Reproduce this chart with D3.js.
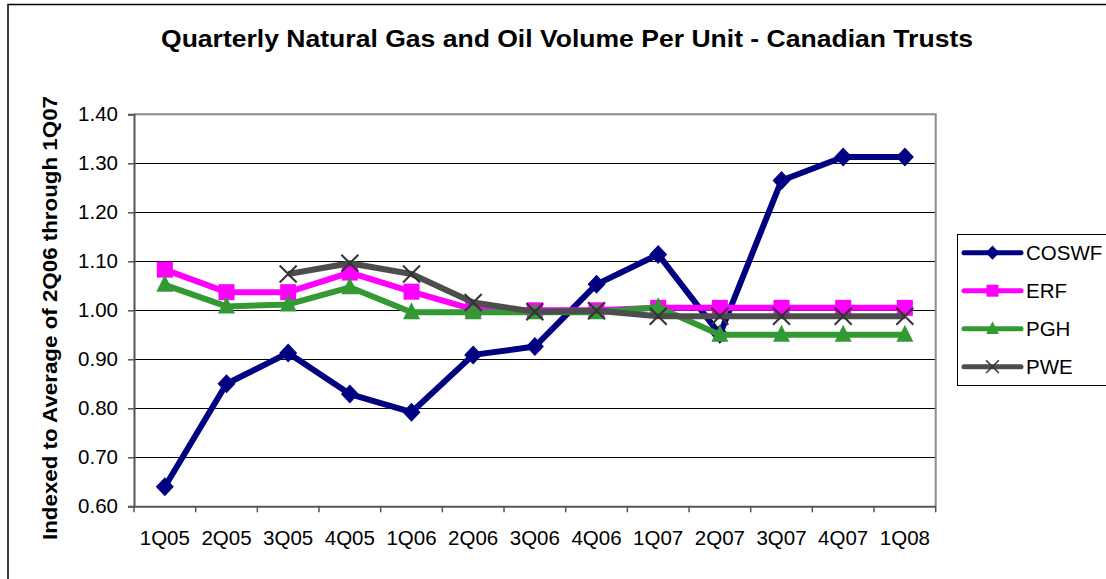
<!DOCTYPE html>
<html>
<head>
<meta charset="utf-8">
<script src="https://cdn.jsdelivr.net/npm/d3@7"></script>
<style>
	html, body { margin: 0; padding: 0; background: #fff; overflow: hidden; }
	svg { display: block; font-family: Arial, "Liberation Sans", sans-serif; }
</style>
</head>
<body>
<svg id="chart" width="1106" height="579"></svg>
<script>
// data
const quarters = ['1Q05', '2Q05', '3Q05', '4Q05', '1Q06', '2Q06', '3Q06', '4Q06', '1Q07', '2Q07', '3Q07', '4Q07', '1Q08'];
const coswf = [0.64, 0.85, 0.913, 0.829, 0.792, 0.909, 0.926, 1.053, 1.114, 0.951, 1.265, 1.313, 1.313];
const erf = [1.083, 1.037, 1.037, 1.077, 1.038, 1.002, 1.0, 1.0, 1.005, 1.005, 1.005, 1.005, 1.005];
const pgh = [1.052, 1.008, 1.012, 1.047, 0.996, 0.996, 0.996, 0.996, 1.006, 0.95, 0.95, 0.95, 0.95];
const pwe = [null, null, 1.074, 1.096, 1.074, 1.016, 0.997, 0.999, 0.988, 0.988, 0.988, 0.988, 0.988];
const yTicks = [0.6, 0.7, 0.8, 0.9, 1.0, 1.1, 1.2, 1.3, 1.4];

window.app = window.app || {};

window.app.volumeChart = (function() {

	'use strict';

	var chart,
		xScale,
		yScale,
		settings = {
			plot: { left: 134, right: 935.7, top: 114.3, bottom: 506.3 },
			fontSize: 20.5
		};

	const series = [
		{ name: 'COSWF', values: coswf, color: '#000080', marker: 'diamond' },
		{ name: 'ERF', values: erf, color: '#ff00ff', marker: 'square' },
		{ name: 'PGH', values: pgh, color: '#339933', marker: 'triangle' },
		{ name: 'PWE', values: pwe, color: '#4d4d4d', marker: 'cross' }
	];


	/**
	* create the scales
	* @returns {undefined}
	*/
	const createScales = function() {
		let p = settings.plot;

		xScale = d3.scaleBand()
			.domain(quarters)
			.range([p.left, p.right])
			.padding(0);

		yScale = d3.scaleLinear()
			.domain([0.6, 1.4])
			.range([p.bottom, p.top]);
	};


	/**
	* fit a text element to a given width
	* @returns {undefined}
	*/
	const fitWidth = function(sel, w) {
		sel.attr('textLength', w).attr('lengthAdjust', 'spacingAndGlyphs');
	};


	/**
	* frame, title and axis title
	* @returns {undefined}
	*/
	const addFrame = function() {
		chart.append('rect')
			.attr('x', 8)
			.attr('y', 4.5)
			.attr('width', 1120)
			.attr('height', 600)
			.attr('fill', 'none')
			.attr('stroke', '#000')
			.attr('stroke-width', 1.5);

		chart.append('text')
			.attr('x', 567)
			.attr('y', 46.5)
			.attr('text-anchor', 'middle')
			.attr('font-size', 23.5)
			.attr('font-weight', 'bold')
			.text('Quarterly Natural Gas and Oil Volume Per Unit - Canadian Trusts')
			.call(fitWidth, 812);

		chart.append('text')
			.attr('transform', 'translate(56.5,318) rotate(-90)')
			.attr('text-anchor', 'middle')
			.attr('font-size', 20.5)
			.attr('font-weight', 'bold')
			.text('Indexed to Average of 2Q06 through 1Q07')
			.call(fitWidth, 444);
	};


	/**
	* grid, plot border and axes
	* @returns {undefined}
	*/
	const createAxes = function() {
		let p = settings.plot;

		// horizontal grid lines
		chart.append('g')
			.selectAll('line')
			.data(yTicks.slice(1, -1))
			.enter()
			.append('line')
			.attr('x1', p.left)
			.attr('x2', p.right)
			.attr('y1', function(d) { return Math.round(yScale(d)) + 0.5; })
			.attr('y2', function(d) { return Math.round(yScale(d)) + 0.5; })
			.attr('stroke', '#000')
			.attr('stroke-width', 1);

		// top and right border of plot area
		chart.append('path')
			.attr('d', 'M' + p.left + ',' + p.top + 'H' + p.right + 'V' + p.bottom)
			.attr('fill', 'none')
			.attr('stroke', '#8c8c8c')
			.attr('stroke-width', 2);

		let xAxis = d3.axisBottom(xScale).tickSize(0).tickPadding(24),
			yAxis = d3.axisLeft(yScale)
				.tickValues(yTicks)
				.tickFormat(d3.format('.2f'))
				.tickSize(6)
				.tickPadding(10);

		let gx = chart.append('g')
			.attr('transform', 'translate(0,' + p.bottom + ')')
			.call(xAxis);
		gx.select('.domain').attr('stroke', '#555').attr('stroke-width', 2);
		gx.selectAll('text')
			.attr('font-size', settings.fontSize)
			.attr('font-family', 'Arial, "Liberation Sans", sans-serif')
			.attr('fill', '#000');

		// x ticks sit on the band edges
		gx.selectAll('.edge')
			.data(d3.range(quarters.length + 1))
			.enter()
			.append('line')
			.attr('class', 'edge')
			.attr('x1', function(i) { return p.left + i * xScale.bandwidth(); })
			.attr('x2', function(i) { return p.left + i * xScale.bandwidth(); })
			.attr('y1', 0)
			.attr('y2', 6)
			.attr('stroke', '#555')
			.attr('stroke-width', 1.5);

		let gy = chart.append('g')
			.attr('transform', 'translate(' + p.left + ',0)')
			.call(yAxis);
		gy.select('.domain').attr('stroke', '#555').attr('stroke-width', 2);
		gy.selectAll('.tick line').attr('stroke', '#555').attr('stroke-width', 1.5);
		gy.selectAll('text')
			.attr('font-size', settings.fontSize)
			.attr('font-family', 'Arial, "Liberation Sans", sans-serif')
			.attr('fill', '#000');
	};


	/**
	* draw one marker shape into a selection
	* @returns {undefined}
	*/
	const drawMarker = function(sel, s) {
		if (s.marker === 'diamond') {
			sel.append('path').attr('d', 'M0,-9.5L9,0L0,9.5L-9,0Z').attr('fill', s.color);
		} else if (s.marker === 'square') {
			sel.append('rect').attr('x', -8).attr('y', -8).attr('width', 16).attr('height', 16).attr('fill', s.color);
		} else if (s.marker === 'triangle') {
			sel.append('path').attr('d', 'M0,-10L8.5,7L-8.5,7Z').attr('fill', s.color);
		} else {
			sel.append('path').attr('d', 'M-8.5,-8.5L8.5,8.5M-8.5,8.5L8.5,-8.5')
				.attr('stroke', '#333')
				.attr('stroke-width', 2)
				.attr('fill', 'none');
		}
	};


	/**
	* add lines and markers
	* @returns {undefined}
	*/
	const addSeries = function() {
		let line = d3.line()
			.defined(function(d) { return d !== null; })
			.x(function(d, i) { return xScale(quarters[i]) + xScale.bandwidth() / 2; })
			.y(function(d) { return yScale(d); });

		series.forEach(function(s) {
			let g = chart.append('g');

			g.append('path')
				.datum(s.values)
				.attr('d', line)
				.attr('fill', 'none')
				.attr('stroke', s.color)
				.attr('stroke-width', 6)
				.attr('stroke-linejoin', 'round');

			g.selectAll('.marker')
				.data(s.values.map(function(v, i) { return { v: v, i: i }; }).filter(function(d) { return d.v !== null; }))
				.enter()
				.append('g')
				.attr('class', 'marker')
				.attr('transform', function(d) {
					return 'translate(' + (xScale(quarters[d.i]) + xScale.bandwidth() / 2) + ',' + yScale(d.v) + ')';
				})
				.each(function() { drawMarker(d3.select(this), s); });
		});
	};


	/**
	* legend box on the right
	* @returns {undefined}
	*/
	const addLegend = function() {
		let lg = chart.append('g');

		lg.append('rect')
			.attr('x', 957.5)
			.attr('y', 234.5)
			.attr('width', 200)
			.attr('height', 151)
			.attr('fill', '#fff')
			.attr('stroke', '#000')
			.attr('stroke-width', 1);

		let item = lg.selectAll('.item')
			.data(series)
			.enter()
			.append('g')
			.attr('class', 'item')
			.attr('transform', function(d, i) { return 'translate(0,' + (252.7 + i * 38) + ')'; });

		item.append('line')
			.attr('x1', 964)
			.attr('x2', 1021)
			.attr('stroke', function(d) { return d.color; })
			.attr('stroke-width', 5)
			.attr('stroke-linecap', 'round');

		item.append('g')
			.attr('transform', 'translate(992.5,0) scale(0.75)')
			.each(function(d) { drawMarker(d3.select(this), d); });

		item.append('text')
			.attr('x', 1026)
			.attr('y', 7.5)
			.attr('font-size', 20.5)
			.text(function(d) { return d.name; });
	};


	/**
	* create the chart
	* @returns {undefined}
	*/
	const drawChart = function(chartSelector) {
		chart = d3.select(chartSelector);
		createScales();
		addFrame();
		createAxes();
		addSeries();
		addLegend();
	};

	return {
		drawChart
	};

})();

window.app.volumeChart.drawChart('#chart');
</script>
</body>
</html>
